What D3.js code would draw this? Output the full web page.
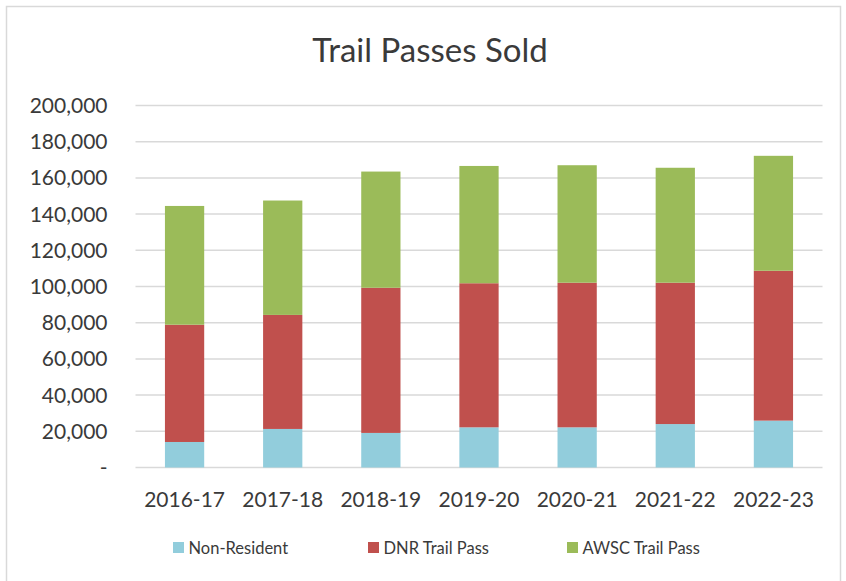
<!DOCTYPE html>
<html>
<head>
<meta charset="utf-8">
<script src="https://cdn.jsdelivr.net/npm/d3@7"></script>
<style>
  body { margin: 0; background: #fff; }
  svg text { font-family: Lato, "Open Sans", sans-serif; fill: #3a3a3a; }
</style>
</head>
<body>
<svg id="chart" width="846" height="581"></svg>
<script>
/* ---------------- DATA ---------------- */
const years = ["2016-17", "2017-18", "2018-19", "2019-20", "2020-21", "2021-22", "2022-23"];
const nonResident = [14100, 21300, 19100, 22200, 22200, 24000, 25900];
const dnrPass = [64800, 63000, 80200, 79600, 79900, 78100, 82800];
const awscPass = [65600, 63200, 64200, 64800, 64900, 63500, 63500];
const seriesNames = ["Non-Resident", "DNR Trail Pass", "AWSC Trail Pass"];
const seriesColors = ["#92cddc", "#c0504d", "#9bbb59"];
const yTicks = [0, 20000, 40000, 60000, 80000, 100000, 120000, 140000, 160000, 180000, 200000];

const rows = years.map((y, i) => ({
  year: y,
  "Non-Resident": nonResident[i],
  "DNR Trail Pass": dnrPass[i],
  "AWSC Trail Pass": awscPass[i]
}));

/* ---------------- SVG SETUP ---------------- */
const svg = d3.select("#chart");
const plot = { left: 135.5, right: 822.5, top: 105.5, bottom: 467.5 };

// chart border
svg.append("rect")
  .attr("x", 6.5).attr("y", 6.5)
  .attr("width", 834).attr("height", 600)
  .attr("fill", "none")
  .attr("stroke", "#d9d9d9")
  .attr("stroke-width", 1.5);

/* ---------------- SCALES ---------------- */
const x = d3.scaleBand()
  .domain(years)
  .range([plot.left, plot.right])
  .paddingInner(0.6)
  .paddingOuter(0.3);

const y = d3.scaleLinear()
  .domain([0, 200000])
  .range([plot.bottom, plot.top]);

/* ---------------- GRIDLINES ---------------- */
svg.append("g")
  .selectAll("line")
  .data(yTicks)
  .enter()
  .append("line")
  .attr("x1", plot.left)
  .attr("x2", plot.right)
  .attr("y1", d => y(d))
  .attr("y2", d => y(d))
  .attr("stroke", "#d9d9d9")
  .attr("stroke-width", 1.5);

/* ---------------- Y AXIS ---------------- */
const fmt = d3.format(",");
svg.append("g")
  .selectAll("text")
  .data(yTicks)
  .enter()
  .append("text")
  .attr("x", 107.5)
  .attr("y", d => y(d))
  .attr("dy", "0.36em")
  .attr("text-anchor", "end")
  .style("font-size", "21px")
  .text(d => d === 0 ? "-" : fmt(d));

/* ---------------- BARS ---------------- */
const stack = d3.stack().keys(seriesNames);
const layers = stack(rows);

svg.append("g")
  .selectAll("g")
  .data(layers)
  .enter()
  .append("g")
  .attr("fill", (d, i) => seriesColors[i])
  .selectAll("rect")
  .data(d => d)
  .enter()
  .append("rect")
  .attr("x", d => x(d.data.year))
  .attr("width", x.bandwidth())
  .attr("y", d => y(d[1]))
  .attr("height", d => y(d[0]) - y(d[1]));

/* ---------------- X AXIS LABELS ---------------- */
svg.append("g")
  .selectAll("text")
  .data(years)
  .enter()
  .append("text")
  .attr("x", d => x(d) + x.bandwidth() / 2)
  .attr("y", 507)
  .attr("text-anchor", "middle")
  .style("font-size", "21px")
  .text(d => d);

/* ---------------- TITLE ---------------- */
svg.append("text")
  .attr("x", 430)
  .attr("y", 62)
  .attr("text-anchor", "middle")
  .style("font-size", "33px")
  .text("Trail Passes Sold");

/* ---------------- LEGEND ---------------- */
const legendX = [173, 368, 567];
const legend = svg.append("g")
  .selectAll("g")
  .data(seriesNames)
  .enter()
  .append("g")
  .attr("transform", (d, i) => `translate(${legendX[i]},542)`);

legend.append("rect")
  .attr("width", 11)
  .attr("height", 11)
  .attr("fill", (d, i) => seriesColors[i]);

legend.append("text")
  .attr("x", 15.5)
  .attr("y", 11.5)
  .style("font-size", "16.5px")
  .text(d => d);
</script>
</body>
</html>
